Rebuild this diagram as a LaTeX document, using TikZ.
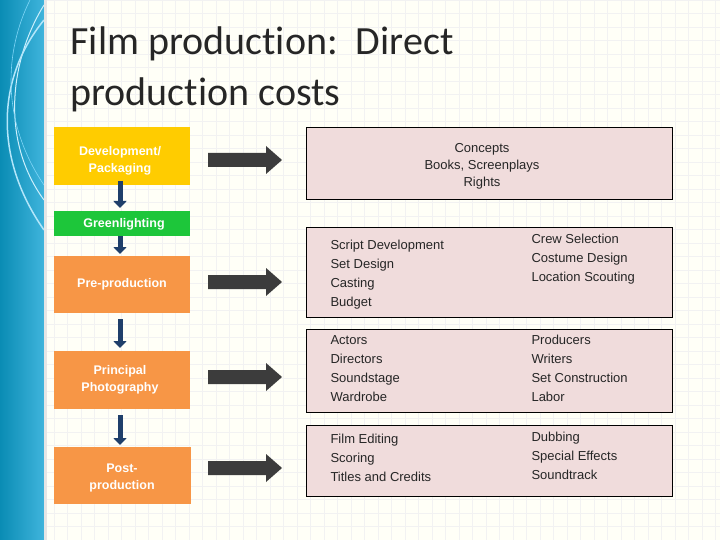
\documentclass[tikz,border=0pt]{standalone}
\usepackage{fontspec}
\setmainfont{Liberation Sans}
\newfontfamily\titlefont[Ligatures={NoCommon}]{Carlito}
\usetikzlibrary{arrows.meta}
\definecolor{yel}{HTML}{FFCC00}
\definecolor{grn}{HTML}{1DC63A}
\definecolor{org}{HTML}{F79646}
\definecolor{pinkbox}{HTML}{F0DCDC}
\definecolor{navy}{HTML}{1F3F6A}
\definecolor{darkar}{HTML}{3C3C3C}
\definecolor{stripA}{HTML}{0A8CB4}
\definecolor{stripB}{HTML}{3FB4DC}
\tikzset{
 ltxt/.style={text=white,align=center,font=\fontsize{12.5}{17}\selectfont\bfseries},
 col/.style={anchor=north west,align=left,font=\fontsize{13}{19}\selectfont,text=black!85},
 down/.style={-{Triangle[length=7pt,width=13pt]},line width=5pt,draw=navy},
 rb/.style={fill=pinkbox,draw=black,line width=0.8pt},
}
\newcommand{\bigarrow}[1]{\fill[darkar] ($(#1)+(0,-7)$) -- ++(58,0) -- ++(0,-7) -- ++(16,14) -- ++(-16,14) -- ++(0,-7) -- ++(-58,0) -- cycle;}
\usetikzlibrary{calc}
\begin{document}
\begin{tikzpicture}[x=1pt,y=-1pt]
\useasboundingbox (0,0) rectangle (720,540);
\fill[white!97!yellow] (0,0) rectangle (720,540);
\draw[black!5,line width=0.4pt] (44,0) grid[step=13.5pt] (720,540);
\shade[left color=stripA,right color=stripB] (0,0) rectangle (44,540);
\draw[white!80!cyan,line width=1pt] (44,5) .. controls (10,60) and (0,140) .. (44,200);
\draw[white!70!cyan,line width=1.5pt] (44,20) .. controls (-5,80) and (-5,160) .. (44,230);
\draw[white!50!cyan,line width=0.6pt] (30,0) .. controls (5,50) and (0,120) .. (44,185);
\fill[black!10] (44,0) rectangle (47,540);
\node[anchor=base west,font=\titlefont\fontsize{40}{48}\selectfont,text=black!85] (t1) at (67,55) {Film production:\ \ Direct};
\node[anchor=base west,font=\titlefont\fontsize{40}{48}\selectfont,text=black!85] (t2) at (67,106) {production costs};
\fill[yel] (54,127) rectangle (190,185);
\fill[grn] (54,211) rectangle (190,236);
\fill[org] (54,256) rectangle (190,313);
\fill[org] (54,351) rectangle (190,409);
\fill[org] (54,447) rectangle (191,504);
\node[ltxt] (d) at (120,161) {Development/\\Packaging};
\node[ltxt] (g) at (124,224) {Greenlighting};
\node[ltxt] (p) at (122,284) {Pre-production};
\node[ltxt] (pp) at (120,380) {Principal\\Photography};
\node[ltxt] (po) at (122,478) {Post-\\production};
\coordinate (a1) at (120,181); \coordinate (b1) at (120,208);
\coordinate (a2) at (120,236); \coordinate (b2) at (120,254);
\coordinate (a3) at (120,319); \coordinate (b3) at (120,348);
\coordinate (a4) at (120,415); \coordinate (b4) at (120,445);
\draw[down] (a1) -- (b1); \draw[down] (a2) -- (b2);
\draw[down] (a3) -- (b3); \draw[down] (a4) -- (b4);
\coordinate (ar1) at (208,160); \coordinate (ar2) at (208,282);
\coordinate (ar3) at (208,377); \coordinate (ar4) at (208,468);
\bigarrow{ar1} \bigarrow{ar2} \bigarrow{ar3} \bigarrow{ar4}
\draw[rb] (306,127) rectangle (672,199);
\draw[rb] (306,227) rectangle (672,317);
\draw[rb] (306,329) rectangle (672,412);
\draw[rb] (306,425) rectangle (672,496);
\node[align=center,font=\fontsize{13}{17}\selectfont,text=black!85] (r1) at (482,166) {Concepts\\Books, Screenplays\\Rights};
\node[col] (c21) at (327,237) {Script Development\\Set Design\\Casting\\Budget};
\node[col] (c22) at (528,231) {Crew Selection\\Costume Design\\Location Scouting};
\node[col] (c31) at (327,332) {Actors\\Directors\\Soundstage\\Wardrobe};
\node[col] (c32) at (528,332) {Producers\\Writers\\Set Construction\\Labor};
\node[col] (c41) at (327,431) {Film Editing\\Scoring\\Titles and Credits};
\node[col] (c42) at (528,429) {Dubbing\\Special Effects\\Soundtrack};
\end{tikzpicture}
\end{document}
